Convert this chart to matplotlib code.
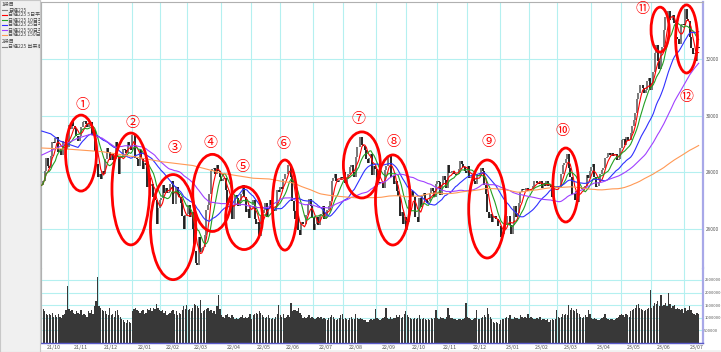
import matplotlib.pyplot as plt
import matplotlib.patches as mpatches
import numpy as np
import pandas as pd

plt.rcParams['font.family'] = ['Noto Sans CJK JP', 'DejaVu Sans']

# month labels and trading days shown per month (21/10 starts on the 6th, 23/07 ends on the 14th)
month_labels = ['21/10', '21/11', '21/12', '22/01', '22/02', '22/03', '22/04', '22/05',
                '22/06', '22/07', '22/08', '22/09', '22/10', '22/11', '22/12', '23/01',
                '23/02', '23/03', '23/04', '23/05', '23/06', '23/07']
month_days = [18, 20, 22, 19, 18, 22, 20, 19, 22, 20, 22, 20, 20, 20, 22, 19, 19, 22, 20, 20, 22, 10]

# daily closes (yen)
close_2021 = [
    27528, 27678, 28048, 28498, 28230, 28140, 28550, 29068, 29025, 29215, 29255, 28708, 28804, 28600, 29106, 29098, 28820, 28892,
    29647, 29520, 29794, 29611, 29507, 29285, 29106, 29277, 29609, 29776, 29808, 29688, 29598, 29745, 29774, 29302, 29499, 28751, 28283, 27821,
    27935, 27753, 28029, 27927, 28455, 28860, 28725, 28437, 28640, 28432, 28459, 29066, 28545, 27937, 28517, 28562, 28798, 28782, 28676, 29069, 28906, 28791,
]
close_2022a = [
    29301, 29332, 28487, 28478, 28222, 28765, 28489, 28124, 28333, 28257, 27467, 27772, 27522, 27588, 27131, 27011, 26170, 26717, 27001,
    27078, 27533, 27241, 27439, 27248, 27284, 27579, 27696, 26865, 26865, 27460, 27232, 27122, 26910, 26449, 25970, 26476, 26526,
    26844, 26393, 26577, 25985, 25221, 24790, 24717, 25690, 25162, 25307, 25346, 25762, 26652, 26827, 27224, 28040, 28110, 28149, 27943, 28252, 28027, 27821,
    27665, 27736, 27787, 27350, 26888, 26985, 26821, 26334, 26843, 27172, 27093, 26799, 26985, 27217, 27553, 27105, 26590, 26700, 26386, 26847,
    26818, 27003, 26319, 26167, 26213, 25748, 26427, 26547, 26659, 26911, 26402, 26739, 27001, 26748, 26677, 26604, 26781, 27369, 27279,
    27457, 27413, 27761, 27915, 27943, 28234, 28246, 27824, 26987, 26629, 26326, 26431, 25963, 25771, 26246, 26149, 26171, 26491, 26871, 27049, 26804, 26393,
]
close_2022b = [
    25935, 26153, 26423, 26107, 26490, 26517, 26812, 26336, 26478, 26643, 26788, 26961, 27680, 27803, 27914, 27699, 27655, 27715, 27815, 27801,
    27993, 27594, 27742, 27932, 28176, 28249, 27999, 27819, 28546, 28871, 28868, 29222, 28942, 28930, 28794, 28452, 28313, 28479, 28641, 27878, 28195, 28091,
    27661, 27650, 27619, 27626, 27430, 28065, 28214, 28542, 28614, 27818, 27875, 27567, 27688, 27313, 27153, 26431, 26571, 26173, 26422, 25937,
    26215, 26992, 27120, 27311, 27116, 26401, 26397, 26237, 27090, 26775, 27156, 27257, 27006, 26890, 26974, 27250, 27431, 27345, 27105, 27587,
    27678, 27663, 27199, 27527, 27872, 27716, 27446, 28263, 27963, 27990, 28028, 27930, 27899, 27944, 28115, 28383, 28283, 28162, 28027, 27968,
    28226, 27777, 27820, 27885, 27686, 27574, 27901, 27842, 27954, 28156, 28051, 27527, 27237, 26568, 26387, 26507, 26235, 26405, 26447, 26340, 26093, 26094,
]
close_2023 = [
    25716, 25820, 25973, 26175, 26446, 26449, 26119, 25822, 26138, 26791, 26405, 26553, 26906, 27299, 27395, 27362, 27382, 27433, 27327,
    27346, 27402, 27509, 27693, 27685, 27606, 27584, 27670, 27427, 27602, 27501, 27696, 27513, 27531, 27473, 27104, 27453, 27423, 27445,
    27516, 27498, 27927, 28237, 28309, 28444, 28623, 28143, 27832, 27222, 27229, 27010, 27333, 26945, 27466, 27419, 27385, 27476, 27518, 27883, 27782, 28041,
    28188, 28287, 27813, 27472, 27518, 27633, 27923, 28082, 28156, 28493, 28514, 28658, 28606, 28657, 28564, 28593, 28620, 28416, 28457, 28856,
    29123, 29157, 28949, 29242, 29122, 29126, 29388, 29626, 29842, 30093, 30573, 30808, 31086, 31066, 30957, 30801, 30916, 31233, 31328, 30887,
    31148, 31524, 32217, 32506, 31913, 31641, 32265, 32434, 33018, 33502, 33485, 33706, 33370, 33388, 33575, 33264, 32781, 32698, 32538, 33193, 33234, 33189,
    33753, 33422, 33338, 32773, 32388, 32189, 32203, 31943, 32419, 32391,
]

# daily volume, thousands
volume_2021 = [
    1700, 1350, 1250, 1150, 1100, 1150, 1100, 1200, 1050, 1100, 1050, 1150, 1050, 1000, 1100, 1150, 1300, 2250,
    1350, 1250, 1300, 1200, 1150, 1250, 1200, 1150, 1300, 1100, 1150, 1100, 1050, 1250, 1200, 1300, 1150, 1450, 1650, 2600,
    1450, 1400, 1300, 1250, 1250, 1150, 1100, 1400, 1100, 1150, 1050, 1250, 1300, 1100, 1050, 950, 900, 850, 800, 900, 850, 800,
]
volume_2022a = [
    1250, 1350, 1400, 1300, 1250, 1200, 1250, 1300, 1150, 1200, 1350, 1300, 1400, 1250, 1400, 1350, 1550, 1400, 1300,
    1250, 1300, 1200, 1250, 1100, 1150, 1200, 1250, 1300, 1150, 1250, 1100, 1200, 1150, 1300, 1450, 1350, 1500,
    1300, 1350, 1250, 1400, 1550, 1500, 1450, 1400, 1700, 1200, 1250, 1300, 1350, 1400, 1250, 1300, 1200, 1250, 1150, 1450, 1900, 1350,
    1100, 1050, 1000, 1100, 1150, 1050, 1000, 1100, 1050, 950, 1000, 950, 1000, 1050, 1100, 1000, 1050, 1000, 1050, 1150,
    950, 1100, 1150, 1200, 1150, 1250, 1200, 1100, 1050, 1000, 1050, 1100, 1000, 950, 1000, 950, 1050, 1150, 1500,
    1100, 1050, 1150, 1000, 1050, 1100, 1050, 1600, 1250, 1300, 1300, 1250, 1400, 1200, 1100, 1000, 1050, 1000, 1050, 1100, 1000, 1050,
]
volume_2022b = [
    1000, 950, 1000, 1050, 1000, 1050, 950, 1000, 950, 900, 1000, 1050, 1100, 1050, 950, 900, 950, 1000, 1100, 1150,
    950, 1000, 950, 900, 1000, 1050, 950, 950, 1150, 1000, 950, 1000, 950, 900, 900, 850, 850, 900, 950, 900, 950, 1350,
    1000, 950, 900, 950, 1000, 1050, 1400, 1000, 950, 1050, 950, 1000, 1000, 1100, 1050, 1100, 1000, 1050, 1150, 1250,
    1100, 1050, 1000, 950, 950, 1000, 950, 1000, 1100, 950, 950, 1000, 950, 900, 950, 900, 1000, 950, 1000, 1300,
    1000, 950, 1050, 1000, 1000, 950, 1050, 1400, 1100, 1000, 1000, 950, 950, 900, 950, 950, 900, 950, 1000, 1600,
    1050, 1000, 950, 900, 950, 1000, 1300, 950, 950, 1000, 1050, 1100, 1050, 1400, 1150, 1050, 950, 850, 800, 850, 800, 750,
]
volume_2023 = [
    900, 950, 950, 1000, 1050, 1000, 1100, 950, 950, 1050, 1000, 1000, 950, 1100, 1050, 1000, 1050, 1000, 1150,
    1000, 1050, 1000, 950, 950, 1000, 950, 1050, 900, 950, 950, 900, 950, 850, 900, 950, 900, 950, 1300,
    1050, 1000, 1050, 1150, 1100, 1150, 1100, 1500, 1300, 1400, 1300, 1250, 1350, 1200, 1150, 1050, 1000, 1050, 1100, 1050, 1300, 1150,
    1000, 950, 1000, 950, 900, 900, 950, 1000, 1050, 1150, 1000, 950, 900, 950, 950, 900, 950, 1000, 1050, 1100,
    1150, 1100, 1050, 1150, 1100, 1050, 1250, 1300, 1350, 1400, 1500, 1550, 1400, 1350, 1300, 1250, 1300, 1350, 1400, 2100,
    1400, 1450, 1600, 1550, 1650, 1450, 1900, 1450, 1500, 1600, 1450, 2000, 1550, 1400, 1450, 1500, 1350, 1400, 1350, 1300, 1350, 1200,
    1400, 1250, 1300, 1450, 1300, 1200, 1150, 1100, 1200, 1150,
]

# start of the slower averages (day index, yen)
ma25_head_day = [0, 6, 12, 18]
ma25_head = [29450, 29350, 29100, 28980]
ma50_head_day = [0, 8, 16, 24, 32, 40, 46]
ma50_head = [28600, 28800, 29000, 29200, 29330, 29200, 28980]
ma150_head_day = [0, 20, 40, 60, 80, 100, 120, 140]
ma150_head = [28850, 28800, 28720, 28550, 28360, 28230, 27950, 27780]

# circled marks: label, centre day, centre price, width (days), height (yen), label day, label price
marks = [
    ('①', 26, 28670, 20.5, 2690, 27, 30370),
    ('②', 59, 27400, 25, 3960, 60, 29730),
    ('③', 87, 26050, 30, 3720, 88, 28850),
    ('④', 113, 27260, 26, 2730, 112, 29030),
    ('⑤', 134, 26370, 24.5, 2230, 133, 28180),
    ('⑥', 161, 26830, 16.5, 3190, 160, 28990),
    ('⑦', 212, 28250, 24.5, 2340, 210, 29880),
    ('⑧', 232.5, 27010, 23, 3190, 233, 29060),
    ('⑨', 295, 26690, 24.5, 3470, 296, 29060),
    ('⑩', 347, 27540, 17, 2620, 345, 29450),
    ('⑪', 409.5, 33040, 12, 1590, 398, 33770),
    ('⑫', 427, 32710, 14.5, 2410, 427, 30650),
]

FIG_W, FIG_H = 721, 352


def px_box(left, top, right, bottom):
    # pixel box -> figure fraction rect
    return [left / FIG_W, 1 - bottom / FIG_H, (right - left) / FIG_W, (bottom - top) / FIG_H]


def ma_line(close, window, head_day, head_val):
    ma = pd.Series(close).rolling(window).mean().to_numpy()
    days = list(head_day) + list(range(window - 1, len(close)))
    vals = list(head_val) + list(ma[window - 1:])
    return days, vals


def draw_legend(fig):
    lax = fig.add_axes(px_box(0, 0, 40, 352))
    lax.set_xlim(0, 40)
    lax.set_ylim(352, 0)
    lax.set_facecolor('#f0f0f0')
    lax.set_xticks([])
    lax.set_yticks([])
    for s in lax.spines.values():
        s.set_color('#c8c8c8')
    rows = [
        (4.5, None, '1段目'),
        (10, '#808080', '日経225'),
        (15, 'red', '日経225 5日平均'),
        (20, '#22a022', '日経225 10日平均'),
        (25, '#3030ff', '日経225 25日平均'),
        (30, '#a040ff', '日経225 50日平均'),
        (35, '#ff9955', '日経225 150日平均'),
        (41, None, '2段目'),
        (46.5, '#808080', '日経225 出来高'),
    ]
    for y, color, text in rows:
        if color is None:
            lax.text(1.5, y, text, fontsize=3.6, color='#444444', va='center', clip_on=True)
        else:
            lax.plot([2, 7], [y, y], color=color, lw=0.8, clip_on=True)
            lax.text(8, y, text, fontsize=3.6, color='#444444', va='center', clip_on=True)


def main():
    close = np.array(close_2021 + close_2022a + close_2022b + close_2023, dtype=float)
    volume = np.array(volume_2021 + volume_2022a + volume_2022b + volume_2023, dtype=float) * 1000
    n = len(close)
    assert n == sum(month_days) == len(volume)
    days = np.arange(n)
    month_start = np.cumsum([0] + month_days[:-1])

    fig = plt.figure(figsize=(FIG_W / 100, FIG_H / 100), dpi=100)
    fig.patch.set_facecolor('#f0f0f0')
    fig.patches.append(mpatches.Rectangle((41 / FIG_W, 1 - 349 / FIG_H), 680 / FIG_W, 349 / FIG_H,
                                          transform=fig.transFigure, color='white', zorder=-10))

    ax = fig.add_axes(px_box(41, 2, 703, 268))
    vax = fig.add_axes(px_box(41, 268, 703, 343), sharex=ax)
    ax.set_zorder(3)  # ellipses may hang over the volume pane
    grid_c = '#b4f0f0'

    # price pane
    for m in month_start:
        ax.axvline(m - 0.5, color=grid_c, lw=0.8, zorder=0)
        vax.axvline(m - 0.5, color=grid_c, lw=0.8, zorder=0)
    for p in [26000, 28000, 30000, 32000]:
        ax.axhline(p, color=grid_c, lw=0.8, zorder=0)

    open_ = np.r_[close[0], close[:-1]]
    up = close >= open_
    ax.vlines(days[up], open_[up], close[up], color='#6e6e6e', lw=1.3, zorder=2)
    ax.vlines(days[~up], close[~up], open_[~up], color='#151515', lw=1.3, zorder=2)

    s = pd.Series(close)
    ax.plot(days, s.rolling(5, min_periods=1).mean(), color='red', lw=0.8, zorder=3)
    ax.plot(days, s.rolling(10, min_periods=1).mean(), color='#22a022', lw=0.8, zorder=3)
    for window, hd, hv, color in [(25, ma25_head_day, ma25_head, '#3030ff'),
                                  (50, ma50_head_day, ma50_head, '#a040ff'),
                                  (150, ma150_head_day, ma150_head, '#ff9955')]:
        xs, ys = ma_line(close, window, hd, hv)
        ax.plot(xs, ys, color=color, lw=0.8, zorder=3)

    for label, cx, cy, w, h, lx, ly in marks:
        ax.add_patch(mpatches.Ellipse((cx, cy), w, h, fill=False, ec='red', lw=2.0,
                                      zorder=5, clip_on=False))
        ax.text(lx, ly, label, color='red', fontsize=10, ha='center', va='center', zorder=5)

    ax.set_xlim(-0.5, 437.9)
    ax.set_ylim(24602, 34018)
    ax.yaxis.tick_right()
    ax.set_yticks([26000, 28000, 30000, 32000])
    ax.set_yticklabels(['26000', '28000', '30000', '32000'])
    ax.tick_params(axis='y', length=0, pad=2, labelsize=3.4, labelcolor='#555555')
    ax.tick_params(axis='x', length=0, labelbottom=False)
    ax.spines['bottom'].set_visible(False)
    ax.spines['left'].set_color('#b0b0b0')
    ax.spines['top'].set_color('#b0b0b0')
    ax.spines['right'].set_color('#a8a8e8')
    ax.spines['right'].set_linewidth(1.6)

    # volume pane
    for v in [500000, 1000000, 1500000, 2000000, 2500000]:
        vax.axhline(v, color=grid_c, lw=0.8, zorder=0)
    vax.bar(days, volume, width=0.85, color='#383838', lw=0, zorder=2)
    vax.set_ylim(0, 2976000)
    vax.yaxis.tick_right()
    vax.set_yticks([500000, 1000000, 1500000, 2000000, 2500000])
    vax.set_yticklabels(['500000', '1000000', '1500000', '2000000', '2500000'])
    vax.tick_params(axis='y', length=0, pad=1.0, labelsize=2.9, labelcolor='#555555')
    vax.set_xticks(month_start + 8)
    vax.set_xticklabels(month_labels)
    vax.tick_params(axis='x', length=0, pad=1.5, labelsize=3.8, labelcolor='#555555')
    vax.spines['top'].set_visible(False)
    vax.spines['left'].set_color('#b0b0b0')
    vax.spines['right'].set_color('#a8a8e8')
    vax.spines['right'].set_linewidth(1.6)
    vax.spines['bottom'].set_color('#5a5ac8')
    vax.spines['bottom'].set_linewidth(1.0)

    draw_legend(fig)
    fig.savefig('out.png', dpi=100)


if __name__ == '__main__':
    main()
